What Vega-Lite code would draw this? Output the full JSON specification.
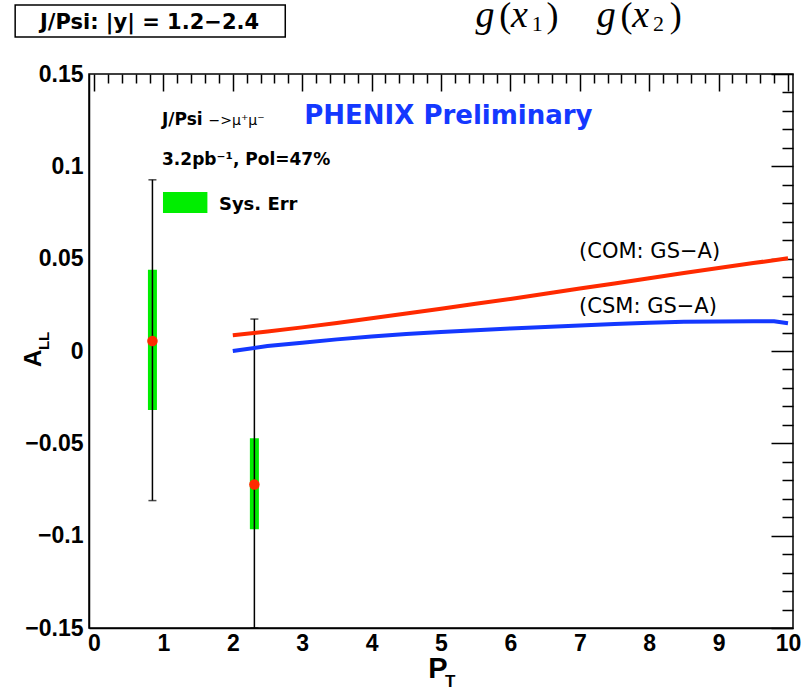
{
  "$schema": "https://vega.github.io/schema/vega-lite/v6.json",
  "width": 704,
  "height": 554,
  "autosize": "none",
  "padding": {"left": 89, "top": 74, "right": 15, "bottom": 60},
  "background": "white",
  "config": {
    "view": {"stroke": "black", "strokeWidth": 1.5},
    "axis": {"grid": false, "domainColor": "black", "domainWidth": 1.5, "tickColor": "black", "tickWidth": 1.5, "labelColor": "black", "title": null}
  },
  "datasets": {
    "points": [
      {"pt": 0.842, "all": 0.0054, "stat_lo": -0.081, "stat_hi": 0.0927, "sys_lo": -0.032, "sys_hi": 0.044},
      {"pt": 2.311, "all": -0.0723, "stat_lo": -0.15, "stat_hi": 0.0173, "sys_lo": -0.0965, "sys_hi": -0.0473}
    ],
    "curves": [
      {"model": "COM", "pt": 2.0, "all": 0.0085},
      {"model": "COM", "pt": 2.5, "all": 0.0105},
      {"model": "COM", "pt": 3.0, "all": 0.0128},
      {"model": "COM", "pt": 3.5, "all": 0.0152},
      {"model": "COM", "pt": 4.0, "all": 0.0177},
      {"model": "COM", "pt": 4.5, "all": 0.0203},
      {"model": "COM", "pt": 5.0, "all": 0.0229},
      {"model": "COM", "pt": 5.5, "all": 0.0256},
      {"model": "COM", "pt": 6.0, "all": 0.0282},
      {"model": "COM", "pt": 6.5, "all": 0.031},
      {"model": "COM", "pt": 7.0, "all": 0.0338},
      {"model": "COM", "pt": 7.5, "all": 0.0366},
      {"model": "COM", "pt": 8.0, "all": 0.0394},
      {"model": "COM", "pt": 8.5, "all": 0.0422},
      {"model": "COM", "pt": 9.0, "all": 0.0449},
      {"model": "COM", "pt": 9.5, "all": 0.0476},
      {"model": "COM", "pt": 10.0, "all": 0.0502},
      {"model": "CSM", "pt": 2.0, "all": 0.0},
      {"model": "CSM", "pt": 2.5, "all": 0.0027},
      {"model": "CSM", "pt": 3.0, "all": 0.0045},
      {"model": "CSM", "pt": 3.5, "all": 0.0063},
      {"model": "CSM", "pt": 4.0, "all": 0.0079},
      {"model": "CSM", "pt": 4.5, "all": 0.0092},
      {"model": "CSM", "pt": 5.0, "all": 0.0103},
      {"model": "CSM", "pt": 5.5, "all": 0.0113},
      {"model": "CSM", "pt": 6.0, "all": 0.0122},
      {"model": "CSM", "pt": 6.5, "all": 0.013},
      {"model": "CSM", "pt": 7.0, "all": 0.0138},
      {"model": "CSM", "pt": 7.5, "all": 0.0146},
      {"model": "CSM", "pt": 8.0, "all": 0.0153},
      {"model": "CSM", "pt": 8.5, "all": 0.0158},
      {"model": "CSM", "pt": 9.0, "all": 0.016},
      {"model": "CSM", "pt": 9.5, "all": 0.0161},
      {"model": "CSM", "pt": 9.8, "all": 0.0161},
      {"model": "CSM", "pt": 10.0, "all": 0.015}
    ],
    "boxes": [
      {"kind": "titlebox", "x1": -1.136, "x2": 2.756, "y1": 0.17003, "y2": 0.18736},
      {"kind": "legend", "x1": 0.994, "x2": 1.634, "y1": 0.0747, "y2": 0.0861}
    ],
    "labels": [
      {"style": "boxtitle", "text": "J/Psi: |y| = 1.2−2.4", "x": 0.8, "y": 0.1744},
      {"style": "mathit", "text": "g", "x": 5.497, "y": 0.1755},
      {"style": "mathit", "text": "x", "x": 6.009, "y": 0.1755},
      {"style": "mathit", "text": "g", "x": 7.244, "y": 0.1755},
      {"style": "mathit", "text": "x", "x": 7.756, "y": 0.1755},
      {"style": "mathrm", "text": "(", "x": 5.838, "y": 0.1755},
      {"style": "mathrm", "text": ")", "x": 6.52, "y": 0.1755},
      {"style": "mathrm", "text": "(", "x": 7.585, "y": 0.1755},
      {"style": "mathrm", "text": ")", "x": 8.295, "y": 0.1755},
      {"style": "mathsub", "text": "1", "x": 6.307, "y": 0.1733},
      {"style": "mathsub", "text": "2", "x": 8.054, "y": 0.1733},
      {"style": "boldmed", "text": "J/Psi", "x": 0.98, "y": 0.1224},
      {"style": "smallreg", "text": "−>μ⁺μ⁻", "x": 1.65, "y": 0.1224},
      {"style": "phenix", "text": "PHENIX Preliminary", "x": 3.03, "y": 0.1228},
      {"style": "boldmed", "text": "3.2pb⁻¹, Pol=47%", "x": 0.98, "y": 0.1007},
      {"style": "sys", "text": "Sys. Err", "x": 1.8, "y": 0.0764},
      {"style": "model", "text": "(COM: GS−A)", "x": 6.99, "y": 0.0504},
      {"style": "model", "text": "(CSM: GS−A)", "x": 6.99, "y": 0.0206},
      {"style": "ytitle", "text": "A", "x": -0.767, "y": -0.0087},
      {"style": "ytitlesub", "text": "LL", "x": -0.653, "y": 0.0005},
      {"style": "xtitle", "text": "P", "x": 4.815, "y": -0.1771},
      {"style": "xtitlesub", "text": "T", "x": 5.057, "y": -0.1819}
    ]
  },
  "resolve": {"axis": {"x": "independent", "y": "independent"}},
  "layer": [
    {
      "data": {"name": "points"},
      "mark": {"type": "bar", "color": "#00ee00", "size": 9},
      "encoding": {
        "x": {"field": "pt", "type": "quantitative", "scale": {"domain": [0, 10], "nice": false, "zero": false},
              "axis": {"values": [0,1,2,3,4,5,6,7,8,9,10], "ticks": false, "labelPadding": 4, "labelFlush": false, "labelOverlap": false, "labelBound": false,
                       "labelFont": "Liberation Sans", "labelFontWeight": "bold", "labelFontSize": 23, "domain": true}},
        "y": {"field": "sys_lo", "type": "quantitative", "scale": {"domain": [-0.15, 0.15], "nice": false, "zero": false},
              "axis": {"values": [-0.15,-0.1,-0.05,0,0.05,0.1,0.15], "format": ".2~g", "ticks": false, "labelPadding": 6, "labelFlush": false, "labelOverlap": false, "labelBound": false,
                       "labelFont": "Liberation Sans", "labelFontWeight": "bold", "labelFontSize": 23, "domain": true}},
        "y2": {"field": "sys_hi"}
      }
    },
    {
      "mark": {"type": "rule", "color": "black", "strokeWidth": 1.5},
      "encoding": {"y": {"datum": 0, "type": "quantitative",
                         "axis": {"values": [-0.15,-0.1,-0.05,0,0.05,0.1,0.15], "labels": false, "domain": false, "tickSize": -22}}}
    },
    {
      "data": {"name": "points"},
      "mark": {"type": "errorbar", "ticks": {"size": 8}, "color": "black", "thickness": 1.5},
      "encoding": {
        "x": {"field": "pt", "type": "quantitative",
              "axis": {"values": [0,1,2,3,4,5,6,7,8,9,10], "labels": false, "domain": false, "tickSize": -17}},
        "y": {"field": "stat_lo", "type": "quantitative", "title": null,
              "axis": {"values": [-0.14,-0.13,-0.12,-0.11,-0.09,-0.08,-0.07,-0.06,-0.04,-0.03,-0.02,-0.01,0.01,0.02,0.03,0.04,0.06,0.07,0.08,0.09,0.11,0.12,0.13,0.14], "labels": false, "domain": false, "tickSize": -11}},
        "y2": {"field": "stat_hi"}
      }
    },
    {
      "data": {"name": "points"},
      "mark": {"type": "circle", "color": "#ff2a00", "opacity": 1, "size": 110},
      "encoding": {
        "x": {"field": "pt", "type": "quantitative",
              "axis": {"values": [0.2,0.4,0.6,0.8,1.2,1.4,1.6,1.8,2.2,2.4,2.6,2.8,3.2,3.4,3.6,3.8,4.2,4.4,4.6,4.8,5.2,5.4,5.6,5.8,6.2,6.4,6.6,6.8,7.2,7.4,7.6,7.8,8.2,8.4,8.6,8.8,9.2,9.4,9.6,9.8], "labels": false, "domain": false, "tickSize": -9}},
        "y": {"field": "all", "type": "quantitative", "axis": null}
      }
    },
    {
      "data": {"name": "curves"},
      "transform": [{"filter": "datum.model === 'COM'"}],
      "mark": {"type": "line", "color": "#ff2a00", "strokeWidth": 4},
      "encoding": {
        "x": {"field": "pt", "type": "quantitative", "axis": null},
        "y": {"field": "all", "type": "quantitative", "axis": null}
      }
    },
    {
      "data": {"name": "curves"},
      "transform": [{"filter": "datum.model === 'CSM'"}],
      "mark": {"type": "line", "color": "#1438ff", "strokeWidth": 4},
      "encoding": {
        "x": {"field": "pt", "type": "quantitative", "axis": null},
        "y": {"field": "all", "type": "quantitative", "axis": null}
      }
    },
    {
      "data": {"name": "boxes"},
      "transform": [{"filter": "datum.kind === 'titlebox'"}],
      "mark": {"type": "rect", "fill": "white", "stroke": "black", "strokeWidth": 1.5},
      "encoding": {
        "x": {"field": "x1", "type": "quantitative", "axis": null}, "x2": {"field": "x2"},
        "y": {"field": "y1", "type": "quantitative", "axis": null}, "y2": {"field": "y2"}
      }
    },
    {
      "data": {"name": "boxes"},
      "transform": [{"filter": "datum.kind === 'legend'"}],
      "mark": {"type": "rect", "fill": "#00ee00"},
      "encoding": {
        "x": {"field": "x1", "type": "quantitative", "axis": null}, "x2": {"field": "x2"},
        "y": {"field": "y1", "type": "quantitative", "axis": null}, "y2": {"field": "y2"}
      }
    },
    {
      "data": {"name": "labels"},
      "transform": [{"filter": "datum.style === 'boxtitle'"}],
      "mark": {"type": "text", "font": "DejaVu Sans", "fontWeight": "bold", "fontSize": 21, "align": "center", "baseline": "alphabetic", "color": "black"},
      "encoding": {"x": {"field": "x", "type": "quantitative", "axis": null}, "y": {"field": "y", "type": "quantitative", "axis": null}, "text": {"field": "text"}}
    },
    {
      "data": {"name": "labels"},
      "transform": [{"filter": "datum.style === 'mathit'"}],
      "mark": {"type": "text", "font": "Liberation Serif", "fontStyle": "italic", "fontSize": 38, "align": "left", "baseline": "alphabetic", "color": "black"},
      "encoding": {"x": {"field": "x", "type": "quantitative", "axis": null}, "y": {"field": "y", "type": "quantitative", "axis": null}, "text": {"field": "text"}}
    },
    {
      "data": {"name": "labels"},
      "transform": [{"filter": "datum.style === 'mathrm'"}],
      "mark": {"type": "text", "font": "Liberation Serif", "fontSize": 36, "align": "left", "baseline": "alphabetic", "color": "black"},
      "encoding": {"x": {"field": "x", "type": "quantitative", "axis": null}, "y": {"field": "y", "type": "quantitative", "axis": null}, "text": {"field": "text"}}
    },
    {
      "data": {"name": "labels"},
      "transform": [{"filter": "datum.style === 'mathsub'"}],
      "mark": {"type": "text", "font": "Liberation Serif", "fontSize": 22, "align": "left", "baseline": "alphabetic", "color": "black"},
      "encoding": {"x": {"field": "x", "type": "quantitative", "axis": null}, "y": {"field": "y", "type": "quantitative", "axis": null}, "text": {"field": "text"}}
    },
    {
      "data": {"name": "labels"},
      "transform": [{"filter": "datum.style === 'boldmed'"}],
      "mark": {"type": "text", "font": "DejaVu Sans", "fontWeight": "bold", "fontSize": 17, "align": "left", "baseline": "alphabetic", "color": "black"},
      "encoding": {"x": {"field": "x", "type": "quantitative", "axis": null}, "y": {"field": "y", "type": "quantitative", "axis": null}, "text": {"field": "text"}}
    },
    {
      "data": {"name": "labels"},
      "transform": [{"filter": "datum.style === 'smallreg'"}],
      "mark": {"type": "text", "font": "DejaVu Sans", "fontSize": 14, "align": "left", "baseline": "alphabetic", "color": "black"},
      "encoding": {"x": {"field": "x", "type": "quantitative", "axis": null}, "y": {"field": "y", "type": "quantitative", "axis": null}, "text": {"field": "text"}}
    },
    {
      "data": {"name": "labels"},
      "transform": [{"filter": "datum.style === 'phenix'"}],
      "mark": {"type": "text", "font": "DejaVu Sans", "fontWeight": "bold", "fontSize": 26, "align": "left", "baseline": "alphabetic", "color": "#1438ff"},
      "encoding": {"x": {"field": "x", "type": "quantitative", "axis": null}, "y": {"field": "y", "type": "quantitative", "axis": null}, "text": {"field": "text"}}
    },
    {
      "data": {"name": "labels"},
      "transform": [{"filter": "datum.style === 'sys'"}],
      "mark": {"type": "text", "font": "DejaVu Sans", "fontWeight": "bold", "fontSize": 18, "align": "left", "baseline": "alphabetic", "color": "black"},
      "encoding": {"x": {"field": "x", "type": "quantitative", "axis": null}, "y": {"field": "y", "type": "quantitative", "axis": null}, "text": {"field": "text"}}
    },
    {
      "data": {"name": "labels"},
      "transform": [{"filter": "datum.style === 'model'"}],
      "mark": {"type": "text", "font": "DejaVu Sans", "fontSize": 21, "align": "left", "baseline": "alphabetic", "color": "black"},
      "encoding": {"x": {"field": "x", "type": "quantitative", "axis": null}, "y": {"field": "y", "type": "quantitative", "axis": null}, "text": {"field": "text"}}
    },
    {
      "data": {"name": "labels"},
      "transform": [{"filter": "datum.style === 'ytitle'"}],
      "mark": {"type": "text", "font": "Liberation Sans", "fontWeight": "bold", "fontSize": 24, "angle": 270, "align": "left", "baseline": "alphabetic", "color": "black"},
      "encoding": {"x": {"field": "x", "type": "quantitative", "axis": null}, "y": {"field": "y", "type": "quantitative", "axis": null}, "text": {"field": "text"}}
    },
    {
      "data": {"name": "labels"},
      "transform": [{"filter": "datum.style === 'ytitlesub'"}],
      "mark": {"type": "text", "font": "Liberation Sans", "fontWeight": "bold", "fontSize": 15, "angle": 270, "align": "left", "baseline": "alphabetic", "color": "black"},
      "encoding": {"x": {"field": "x", "type": "quantitative", "axis": null}, "y": {"field": "y", "type": "quantitative", "axis": null}, "text": {"field": "text"}}
    },
    {
      "data": {"name": "labels"},
      "transform": [{"filter": "datum.style === 'xtitle'"}],
      "mark": {"type": "text", "font": "Liberation Sans", "fontWeight": "bold", "fontSize": 29, "align": "left", "baseline": "alphabetic", "color": "black"},
      "encoding": {"x": {"field": "x", "type": "quantitative", "axis": null}, "y": {"field": "y", "type": "quantitative", "axis": null}, "text": {"field": "text"}}
    },
    {
      "data": {"name": "labels"},
      "transform": [{"filter": "datum.style === 'xtitlesub'"}],
      "mark": {"type": "text", "font": "Liberation Sans", "fontWeight": "bold", "fontSize": 17, "align": "left", "baseline": "alphabetic", "color": "black"},
      "encoding": {"x": {"field": "x", "type": "quantitative", "axis": null}, "y": {"field": "y", "type": "quantitative", "axis": null}, "text": {"field": "text"}}
    }
  ]
}
